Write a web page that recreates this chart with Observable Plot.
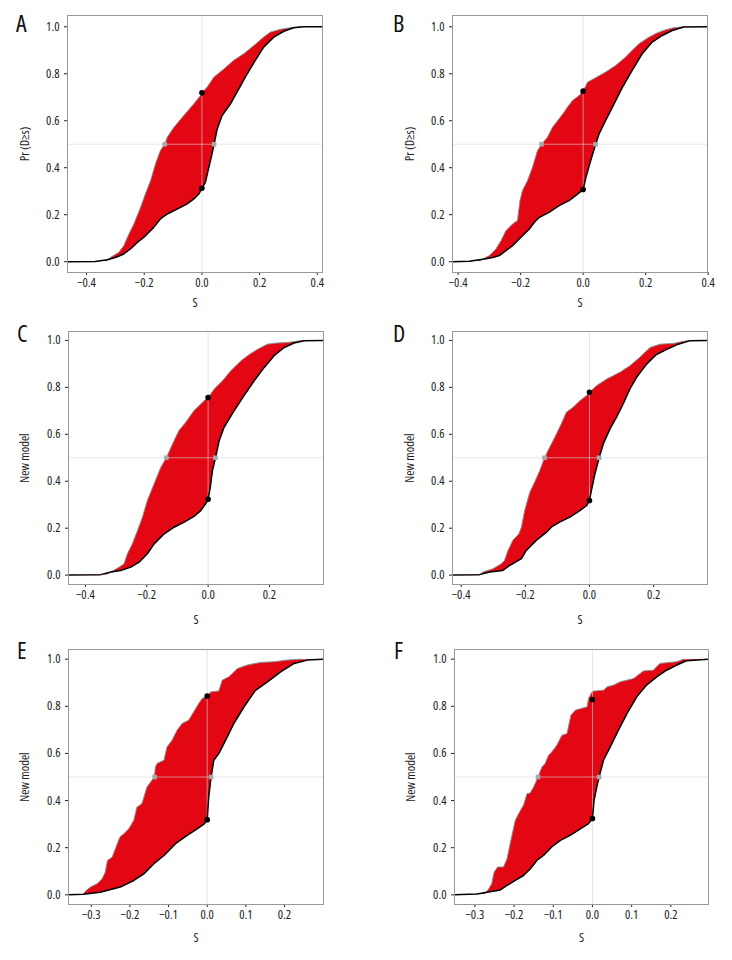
<!DOCTYPE html>
<html><head><meta charset="utf-8">
<script src="https://cdn.jsdelivr.net/npm/d3@7"></script>
<script src="https://cdn.jsdelivr.net/npm/@observablehq/plot@0.6"></script>
<style>
html,body{margin:0;padding:0;background:#fff;}
#wrap{position:relative;width:732px;height:960px;overflow:hidden;
  font-family:"Open Sans","Noto Sans",sans-serif;font-stretch:75%;color:#222;}
.panel{position:absolute;}
.panel svg{background:transparent !important;}
.letter{position:absolute;font-size:24px;line-height:24px;color:#111;font-family:"Open Sans","Noto Sans",sans-serif;font-stretch:75%;}
</style></head><body><div id="wrap"></div>
<script>
// ---------- data: [s, Pr] pairs ----------
const yTicks = [0, 0.2, 0.4, 0.6, 0.8, 1.0];
const xTicksAB = [-0.4, -0.2, 0, 0.2, 0.4];
const xTicksCD = [-0.4, -0.2, 0, 0.2];
const xTicksEF = [-0.3, -0.2, -0.1, 0, 0.1, 0.2];
const yLabels = ["Pr (D≥s)", "Pr (D≥s)", "New model", "New model", "New model", "New model"];
const letters = ["A", "B", "C", "D", "E", "F"];

const A_left = [[-0.33,0.004],[-0.317,0.018],[-0.288,0.04],[-0.271,0.068],[-0.253,0.118],[-0.236,0.16],[-0.213,0.23],[-0.196,0.288],[-0.178,0.345],[-0.161,0.416],[-0.144,0.473],[-0.129,0.5],[-0.12,0.53],[-0.097,0.572],[-0.063,0.622],[-0.028,0.672],[-0.005,0.707],[0,0.719],[0.018,0.743],[0.041,0.785],[0.076,0.82],[0.11,0.857],[0.145,0.885],[0.18,0.92],[0.214,0.956],[0.237,0.977],[0.272,0.989],[0.307,0.996],[0.34,1.0]];
const A_right = [[-0.47,0],[-0.37,0.001],[-0.328,0.008],[-0.3,0.018],[-0.271,0.033],[-0.248,0.054],[-0.224,0.082],[-0.201,0.104],[-0.167,0.146],[-0.144,0.182],[-0.12,0.203],[-0.086,0.224],[-0.051,0.246],[-0.028,0.267],[-0.011,0.288],[0,0.3125],[0.012,0.338],[0.024,0.402],[0.035,0.459],[0.042,0.5],[0.053,0.565],[0.07,0.622],[0.099,0.672],[0.128,0.736],[0.157,0.8],[0.185,0.857],[0.214,0.913],[0.249,0.956],[0.284,0.981],[0.318,0.996],[0.353,1.0],[0.42,1.0]];
const A_black = [[0,0.719],[0,0.3125]];
const A_gray = [[-0.129,0.5],[0.042,0.5]];

const B_left = [[-0.33,0.004],[-0.321,0.011],[-0.3,0.026],[-0.279,0.054],[-0.263,0.089],[-0.247,0.132],[-0.226,0.16],[-0.21,0.175],[-0.202,0.26],[-0.194,0.303],[-0.178,0.345],[-0.162,0.402],[-0.146,0.473],[-0.133,0.5],[-0.114,0.53],[-0.098,0.572],[-0.077,0.608],[-0.061,0.636],[-0.05,0.658],[-0.034,0.686],[-0.013,0.707],[0,0.726],[0.014,0.764],[0.04,0.783],[0.072,0.807],[0.104,0.835],[0.136,0.871],[0.157,0.9],[0.179,0.928],[0.211,0.956],[0.237,0.974],[0.264,0.987],[0.29,0.996],[0.322,1.0]];
const B_right = [[-0.42,0],[-0.364,0.002],[-0.316,0.011],[-0.289,0.018],[-0.268,0.026],[-0.247,0.047],[-0.226,0.068],[-0.199,0.104],[-0.172,0.139],[-0.156,0.168],[-0.14,0.189],[-0.109,0.21],[-0.077,0.239],[-0.045,0.26],[-0.018,0.288],[0,0.307],[0.009,0.359],[0.024,0.43],[0.04,0.5],[0.051,0.544],[0.072,0.601],[0.099,0.672],[0.126,0.743],[0.157,0.814],[0.189,0.885],[0.221,0.935],[0.253,0.963],[0.285,0.984],[0.322,0.999],[0.4,1.0]];
const B_black = [[0,0.726],[0,0.307]];
const B_gray = [[-0.133,0.5],[0.04,0.5]];

const C_left = [[-0.33,0.004],[-0.317,0.013],[-0.29,0.034],[-0.274,0.048],[-0.263,0.091],[-0.247,0.133],[-0.23,0.19],[-0.214,0.247],[-0.198,0.318],[-0.176,0.389],[-0.154,0.46],[-0.136,0.5],[-0.116,0.559],[-0.095,0.616],[-0.073,0.651],[-0.046,0.701],[-0.013,0.743],[0,0.757],[0.02,0.793],[0.047,0.828],[0.074,0.871],[0.107,0.913],[0.134,0.94],[0.161,0.962],[0.193,0.984],[0.226,0.989],[0.259,0.991],[0.302,0.999],[0.32,1.0]];
const C_right = [[-0.46,0],[-0.35,0.002],[-0.317,0.013],[-0.285,0.02],[-0.252,0.034],[-0.225,0.055],[-0.198,0.091],[-0.176,0.133],[-0.143,0.176],[-0.111,0.204],[-0.078,0.226],[-0.046,0.25],[-0.024,0.275],[-0.008,0.304],[0,0.323],[0.007,0.374],[0.014,0.445],[0.024,0.5],[0.036,0.573],[0.052,0.63],[0.085,0.701],[0.117,0.765],[0.15,0.828],[0.183,0.885],[0.215,0.935],[0.248,0.97],[0.28,0.989],[0.313,0.999],[0.38,1.0]];
const C_black = [[0,0.757],[0,0.323]];
const C_gray = [[-0.136,0.5],[0.024,0.5]];

const D_left = [[-0.34,0.004],[-0.332,0.013],[-0.301,0.027],[-0.275,0.048],[-0.265,0.062],[-0.254,0.105],[-0.239,0.148],[-0.22,0.176],[-0.212,0.204],[-0.202,0.275],[-0.186,0.353],[-0.171,0.396],[-0.155,0.445],[-0.14,0.5],[-0.124,0.545],[-0.108,0.587],[-0.088,0.644],[-0.072,0.694],[-0.051,0.715],[-0.03,0.743],[-0.009,0.765],[0,0.779],[0.022,0.807],[0.053,0.835],[0.095,0.864],[0.126,0.892],[0.157,0.928],[0.189,0.97],[0.22,0.984],[0.261,0.987],[0.293,0.996],[0.314,1.0]];
const D_right = [[-0.43,0],[-0.343,0.002],[-0.311,0.013],[-0.27,0.02],[-0.249,0.041],[-0.212,0.07],[-0.197,0.105],[-0.166,0.148],[-0.134,0.183],[-0.119,0.204],[-0.093,0.226],[-0.061,0.247],[-0.03,0.275],[-0.009,0.296],[0,0.318],[0.006,0.36],[0.017,0.431],[0.03,0.5],[0.043,0.559],[0.064,0.623],[0.084,0.672],[0.105,0.729],[0.126,0.793],[0.147,0.843],[0.178,0.899],[0.209,0.94],[0.241,0.962],[0.277,0.984],[0.314,0.999],[0.37,1.0]];
const D_black = [[0,0.779],[0,0.318]];
const D_gray = [[-0.14,0.5],[0.03,0.5]];

const E_left = [[-0.32,0.004],[-0.315,0.016],[-0.302,0.033],[-0.285,0.047],[-0.272,0.068],[-0.264,0.096],[-0.258,0.146],[-0.246,0.16],[-0.238,0.195],[-0.226,0.245],[-0.216,0.259],[-0.203,0.28],[-0.19,0.316],[-0.182,0.372],[-0.169,0.387],[-0.156,0.457],[-0.137,0.5],[-0.134,0.542],[-0.13,0.557],[-0.112,0.571],[-0.104,0.627],[-0.091,0.656],[-0.078,0.698],[-0.065,0.727],[-0.048,0.741],[-0.035,0.776],[-0.022,0.812],[-0.013,0.833],[0,0.844],[0.009,0.861],[0.03,0.865],[0.039,0.911],[0.056,0.925],[0.078,0.96],[0.104,0.975],[0.138,0.986],[0.173,0.989],[0.207,0.996],[0.242,1.0]];
const E_right = [[-0.36,0],[-0.32,0.002],[-0.277,0.011],[-0.225,0.033],[-0.19,0.061],[-0.164,0.089],[-0.138,0.132],[-0.112,0.167],[-0.082,0.217],[-0.052,0.252],[-0.026,0.28],[-0.007,0.302],[0,0.319],[0.004,0.415],[0.01,0.5],[0.017,0.571],[0.03,0.599],[0.052,0.67],[0.069,0.727],[0.095,0.797],[0.125,0.868],[0.156,0.904],[0.19,0.946],[0.225,0.982],[0.259,0.996],[0.31,1.0]];
const E_black = [[0,0.844],[0,0.319]];
const E_gray = [[-0.136,0.5],[0.01,0.5]];

const F_left = [[-0.275,0.004],[-0.265,0.025],[-0.257,0.047],[-0.251,0.096],[-0.242,0.118],[-0.227,0.118],[-0.218,0.153],[-0.21,0.217],[-0.197,0.316],[-0.184,0.358],[-0.176,0.38],[-0.167,0.429],[-0.159,0.432],[-0.15,0.458],[-0.139,0.5],[-0.129,0.542],[-0.121,0.557],[-0.112,0.592],[-0.104,0.606],[-0.091,0.635],[-0.078,0.677],[-0.065,0.684],[-0.055,0.762],[-0.044,0.783],[-0.031,0.79],[-0.014,0.797],[-0.01,0.833],[0,0.864],[0.028,0.868],[0.037,0.882],[0.054,0.89],[0.071,0.904],[0.088,0.911],[0.105,0.918],[0.13,0.95],[0.155,0.953],[0.172,0.982],[0.215,0.989],[0.232,1.0]];
const F_right = [[-0.36,0],[-0.295,0.004],[-0.269,0.011],[-0.235,0.021],[-0.218,0.04],[-0.197,0.061],[-0.176,0.082],[-0.159,0.11],[-0.142,0.146],[-0.125,0.167],[-0.104,0.203],[-0.082,0.231],[-0.057,0.252],[-0.031,0.28],[-0.01,0.302],[0,0.324],[0.004,0.401],[0.011,0.458],[0.017,0.5],[0.028,0.571],[0.045,0.627],[0.066,0.698],[0.088,0.769],[0.113,0.84],[0.138,0.89],[0.164,0.925],[0.189,0.953],[0.215,0.975],[0.24,0.993],[0.3,1.0]];
const F_black = [[0,0.829],[0,0.324]];
const F_gray = [[-0.139,0.5],[0.017,0.5]];

// ---------- layout ----------
const fmt = d => (d < 0 ? "\u2212" : "") + Math.abs(d).toFixed(1);
const FONT = '"Open Sans","Noto Sans",sans-serif';

const panels = [
  {left:A_left, right:A_right, black:A_black, gray:A_gray, xd:[-0.466,0.418], xt:xTicksAB, pos:[0,0],   h:310, m:[15,44,38,67],  ylo:47, xlo:34, yd:[-0.046,1.048]},
  {left:B_left, right:B_right, black:B_black, gray:B_gray, xd:[-0.418,0.398], xt:xTicksAB, pos:[366,0], h:310, m:[15,25,38,86],  ylo:47, xlo:34, yd:[-0.046,1.048]},
  {left:C_left, right:C_right, black:C_black, gray:C_gray, xd:[-0.455,0.376], xt:xTicksCD, pos:[0,310], h:310, m:[21,43,36,68],  ylo:48, xlo:39, yd:[-0.04,1.038]},
  {left:D_left, right:D_right, black:D_black, gray:D_gray, xd:[-0.427,0.368], xt:xTicksCD, pos:[366,310],h:310, m:[21,25,36,86], ylo:47, xlo:39, yd:[-0.04,1.038]},
  {left:E_left, right:E_right, black:E_black, gray:E_gray, xd:[-0.359,0.301], xt:xTicksEF, pos:[0,620], h:340, m:[29,43,56,68],  ylo:48, xlo:37, yd:[-0.041,1.041]},
  {left:F_left, right:F_right, black:F_black, gray:F_gray, xd:[-0.352,0.296], xt:xTicksEF, pos:[366,620],h:340, m:[29,24,56,88], ylo:48, xlo:37, yd:[-0.041,1.041]}
];
const letterPos = [[16,11],[393,11],[17,321],[393,321],[17,638],[394,638]];

const wrap = document.getElementById("wrap");
const X = d => d[0], Y = d => d[1];

panels.forEach((p, i) => {
  const poly = p.left.concat(p.right.slice().reverse());
  const chart = Plot.plot({
    width: 366, height: p.h,
    marginTop: p.m[0], marginRight: p.m[1], marginBottom: p.m[2], marginLeft: p.m[3],
    style: {fontFamily: FONT, fontSize: "12.5px", fontStretch: "75%", color: "#222", background: "transparent", overflow: "visible"},
    x: {domain: p.xd, ticks: p.xt, tickFormat: fmt, tickSize: 3, tickPadding: 3, label: "S", labelAnchor: "center", labelOffset: p.xlo, labelArrow: "none"},
    y: {domain: p.yd, ticks: yTicks, tickFormat: fmt, tickSize: 3, tickPadding: 5, label: yLabels[i], labelAnchor: "center", labelOffset: p.ylo, labelArrow: "none"},
    marks: [
      Plot.line(poly, {x: X, y: Y, fill: "#e30613", stroke: "none", curve: "linear-closed", clip: true}),
      Plot.line(p.left, {x: X, y: Y, stroke: "#8a8a8a", strokeWidth: 1, clip: true}),
      Plot.ruleY([0.5], {stroke: "#d5d5d5", strokeOpacity: 0.6, strokeWidth: 1}),
      Plot.ruleX([0], {stroke: "#d5d5d5", strokeOpacity: 0.6, strokeWidth: 1}),
      Plot.line(p.right, {x: X, y: Y, stroke: "#000", strokeWidth: 1.5, clip: true}),
      Plot.dot(p.gray, {x: X, y: Y, fill: "#a8a8a8", stroke: "none", r: 2.6, symbol: "square"}),
      Plot.dot(p.black, {x: X, y: Y, fill: "#000", stroke: "none", r: 2.8}),
      Plot.frame({stroke: "#999", strokeWidth: 1})
    ]
  });
  const div = document.createElement("div");
  div.className = "panel";
  div.style.left = p.pos[0] + "px";
  div.style.top = p.pos[1] + "px";
  div.appendChild(chart);
  wrap.appendChild(div);

  const lt = document.createElement("div");
  lt.className = "letter";
  lt.textContent = letters[i];
  lt.style.left = letterPos[i][0] + "px";
  lt.style.top = letterPos[i][1] + "px";
  wrap.appendChild(lt);
});
</script>
</body></html>
